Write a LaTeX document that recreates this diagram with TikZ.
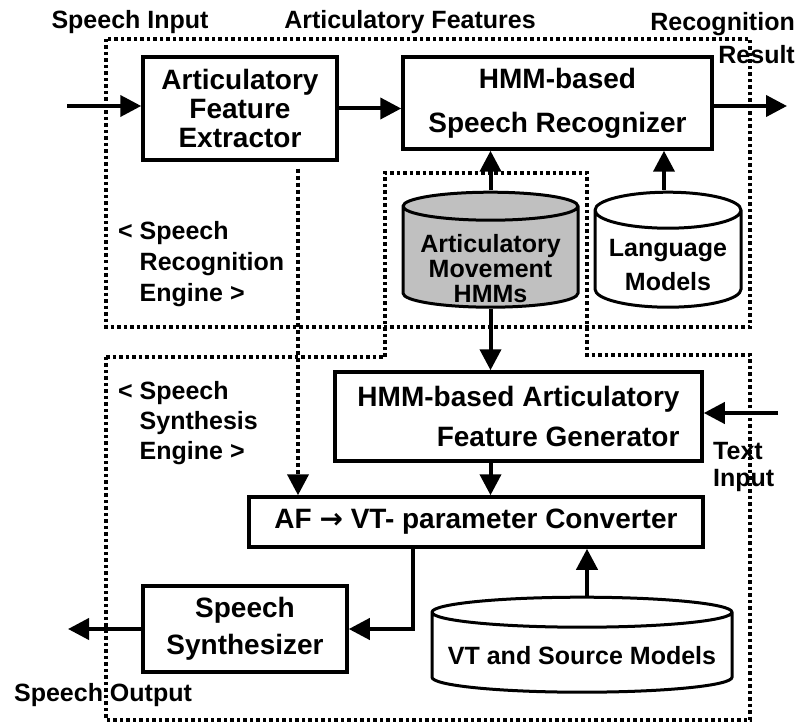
\documentclass[tikz,border=0pt]{standalone}
\usepackage{fontspec}
\setmainfont{Liberation Sans}
\newfontfamily\arrowfont{DejaVu Sans}
\usetikzlibrary{arrows.meta,calc}
\definecolor{dbgray}{HTML}{C0C0C0}
\newcommand{\boxfont}[1]{\fontsize{28}{#1}\selectfont\bfseries}
\newcommand{\labfont}{\fontsize{25}{31}\selectfont\bfseries}
% cylinder outline inside the node box: #1 fill, #2 end radius
\newcommand{\dbpath}[2]{%
  \path (path picture bounding box.north west) ++(1.5pt,-1.5pt) coordinate (dbnw)
        (path picture bounding box.south east) ++(-1.5pt,1.5pt) coordinate (dbse);
  \draw[line width=3pt, fill=#1] let \p1=(dbnw), \p2=(dbse), \n1={(\x2-\x1)/2} in
    ({\x1},{\y1-#2}) -- ({\x1},{\y2+#2})
    arc[start angle=180, end angle=360, x radius=\n1, y radius=#2]
    -- ({\x2},{\y1-#2})
    arc[start angle=0, end angle=180, x radius=\n1, y radius=#2] -- cycle
    ({\x1},{\y1-#2}) arc[start angle=180, end angle=360, x radius=\n1, y radius=#2];
}
\tikzset{
  box/.style={draw, line width=3.5pt, align=center, inner sep=0pt, font=\boxfont{30}},
  dbase/.style 2 args={inner sep=0pt, anchor=north, path picture={\dbpath{#1}{#2}}},
  dbtext/.style={align=center, inner sep=0pt, anchor=center},
  arr/.style={-{Triangle[length=21pt,width=21pt]}, line width=4pt},
  dotarr/.style={arr, dash pattern=on 4pt off 3pt},
  frame/.style={line width=3.5pt, dash pattern=on 3.5pt off 3pt},
  lab/.style={font=\labfont, inner sep=0pt},
}
\begin{document}
\begin{tikzpicture}[x=1pt,y=-1pt]
  \useasboundingbox (0,0) rectangle (798,722);
  % engine frames
  \draw[frame] (106,39) rectangle (750,327);
  \draw[frame] (106,357) -- (385,357) -- (385,173) -- (587,173) -- (587,355)
    -- (750,355) -- (750,720) -- (106,720) -- cycle;
  % blocks
  \node[box, minimum width=194pt, minimum height=103pt, font=\boxfont{29}] (ext) at (240,108.5) {Articulatory\\Feature\\Extractor};
  \node[box, minimum width=309pt, minimum height=92pt, font=\boxfont{44}] (rec) at (557.5,103) {HMM-based\\Speech Recognizer};
  \node[dbase={dbgray}{14pt}, minimum width=178pt, minimum height=118pt,
        label={[dbtext, yshift=40.5pt, font=\fontsize{25}{25}\selectfont\bfseries]south:Articulatory\\Movement\\HMMs}] (am) at (490.5,190.5) {};
  \node[dbase={white}{18pt}, minimum width=149pt, minimum height=118pt,
        label={[dbtext, yshift=43.5pt, font=\fontsize{25}{34}\selectfont\bfseries]south:Language\\Models}] (lm) at (668,190.5) {};
  \node[box, minimum width=367pt, minimum height=89pt, align=right, font=\boxfont{40}] (gen) at (518.5,416.5) {HMM-based Articulatory\\Feature Generator};
  \node[box, minimum width=454pt, minimum height=50pt] (conv) at (476,522) {AF {\arrowfont\bfseries →} VT- parameter Converter};
  \node[box, minimum width=204pt, minimum height=86pt, font=\boxfont{37}] (syn) at (245,629) {Speech\\Synthesizer};
  \node[dbase={white}{15pt}, minimum width=303pt, minimum height=98pt,
        label={[dbtext, yshift=38.5pt, font=\labfont]south:VT and Source Models}] (vt) at (582,595.5) {};
  % labels
  \node[lab] (lin) at (130,22) {Speech Input};
  \node[lab] (laf) at (410,22) {Articulatory Features};
  \node[lab, align=right, anchor=east, font=\fontsize{25}{33}\selectfont\bfseries] (lres) at (795,38.5) {Recognition\\Result};
  \node[lab, align=left, anchor=west] (lrec) at (118,264) {< Speech\\\hphantom{< }Recognition\\\hphantom{< }Engine >};
  \node[lab, align=left, anchor=west, font=\fontsize{25}{30}\selectfont\bfseries] (lsyn) at (118,423) {< Speech\\\hphantom{< }Synthesis\\\hphantom{< }Engine >};
  \node[lab, align=left, anchor=west, font=\fontsize{25}{27}\selectfont\bfseries] (ltxt) at (713,466.5) {Text\\Input};
  \node[lab] (lout) at (103,695) {Speech Output};
  % free ends
  \coordinate (sin) at (67,106);
  \coordinate (res) at (787,106);
  \coordinate (tin) at (778,413);
  \coordinate (sout) at (68,629);
  % connectors
  \draw[arr] (sin) -- (sin -| ext.west);
  \draw[arr] (ext.east) -- (ext.east -| rec.west);
  \draw[arr] (rec.east |- res) -- (res);
  \draw[arr] (am.north) -- (am.north |- rec.south);
  \draw[arr] ([xshift=-4pt]lm.north) -- ([xshift=-4pt]lm.north |- rec.south);
  \draw[arr] (am.south) -- (am.south |- gen.north);
  \draw[arr] (tin) -- (tin -| gen.east);
  \draw[arr] (gen.south -| am.south) -- (conv.north -| am.south);
  \draw[dotarr, shorten <=7pt] ([xshift=58pt]ext.south) -- ([xshift=58pt]ext.south |- conv.north);
  \draw[arr] ([xshift=-63pt]conv.south) |- (syn.east);
  \draw[arr] ([xshift=5pt]vt.north) -- ([xshift=5pt]vt.north |- conv.south);
  \draw[arr] (syn.west) -- (sout);
\end{tikzpicture}
\end{document}
